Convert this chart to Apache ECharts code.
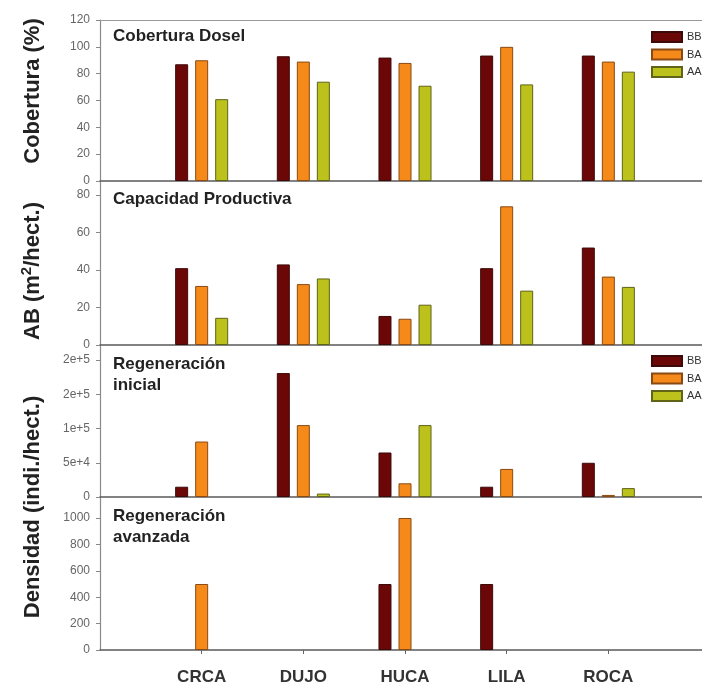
<!DOCTYPE html>
<html>
<head>
<meta charset="utf-8">
<script src="https://cdn.jsdelivr.net/npm/echarts@6/dist/echarts.min.js"></script>
<style>
  html, body { margin: 0; padding: 0; background: #fff; }
  #chart { width: 702px; height: 682px; }
</style>
</head>
<body>
<div id="chart"></div>
<script>
// Sites (x categories)
const categories = ['CRCA', 'DUJO', 'HUCA', 'LILA', 'ROCA'];
const seriesNames = ['BB', 'BA', 'AA'];

// Cobertura del dosel (%)
const coberturaBB = [87, 93, 92, 93.5, 93.5];
const coberturaBA = [90, 89, 88, 100, 89];
const coberturaAA = [61, 74, 71, 72, 81.5];

// Área basal (m2/hect.)
const abBB = [41, 43, 15.5, 41, 52];
const abBA = [31.5, 32.5, 14, 74, 36.5];
const abAA = [14.5, 35.5, 21.5, 29, 31];

// Regeneración inicial (indi./hect.)
const regInicialBB = [15000, 181000, 65000, 15000, 50000];
const regInicialBA = [81000, 105000, 20000, 41000, 3000];
const regInicialAA = [0, 5000, 105000, 0, 13000];

// Regeneración avanzada (indi./hect.)
const regAvanzadaBB = [0, 0, 500, 500, 0];
const regAvanzadaBA = [500, 0, 1000, 0, 0];
const regAvanzadaAA = [0, 0, 0, 0, 0];

// Y tick values and their printed labels per panel
const coberturaTicks = [0, 20, 40, 60, 80, 100, 120];
const coberturaTickLabels = ['0', '20', '40', '60', '80', '100', '120'];
const abTicks = [0, 20, 40, 60, 80];
const abTickLabels = ['0', '20', '40', '60', '80'];
const regInicialTicks = [0, 50000, 100000, 150000, 200000];
const regInicialTickLabels = ['0', '5e+4', '1e+5', '2e+5', '2e+5'];
const regAvanzadaTicks = [0, 200, 400, 600, 800, 1000];
const regAvanzadaTickLabels = ['0', '200', '400', '600', '800', '1000'];

const colors = { BB: '#6c0707', BA: '#f5891a', AA: '#bcc11c' };
const borderColors = { BB: '#3d0a0a', BA: '#8a4a12', AA: '#5f6418' };

// empty slot at each end so the sites sit one step inside the frame
const xSlots = [''].concat(categories, ['']);
// zero-valued bars get no outline so they vanish into the axis
const pad = arr => [null].concat(
  arr.map(v => (v === 0 ? { value: 0, itemStyle: { borderWidth: 0 } } : v)),
  [null]
);

const panels = [
  { top: 20,  height: 161, max: 120,    ticks: coberturaTicks,   labels: coberturaTickLabels,   data: [coberturaBB, coberturaBA, coberturaAA] },
  { top: 181, height: 164, max: 87.5,   ticks: abTicks,          labels: abTickLabels,          data: [abBB, abBA, abAA] },
  { top: 345, height: 152, max: 222000, ticks: regInicialTicks,  labels: regInicialTickLabels,  data: [regInicialBB, regInicialBA, regInicialAA] },
  { top: 497, height: 153, max: 1159,   ticks: regAvanzadaTicks, labels: regAvanzadaTickLabels, data: [regAvanzadaBB, regAvanzadaBA, regAvanzadaAA] }
];

const grid = [], xAxis = [], yAxis = [], series = [];
panels.forEach((p, i) => {
  // frame runs past the right edge of the canvas
  grid.push({ left: 100, width: 610, top: p.top, height: p.height, outerBoundsMode: 'none', containLabel: false });
  const last = i === panels.length - 1;
  xAxis.push({
    type: 'category', gridIndex: i, data: xSlots, boundaryGap: false,
    axisLine: { lineStyle: { color: '#5a5a5a', width: 1.5 } },
    axisTick: { show: last, length: 4, interval: (idx, v) => v !== '', lineStyle: { color: '#666' } },
    axisLabel: {
      show: last, margin: 19, interval: 0,
      fontFamily: 'Liberation Sans', fontWeight: 'bold', fontSize: 17, color: '#333'
    },
    splitLine: { show: false }
  });
  yAxis.push({
    type: 'value', gridIndex: i, min: 0, max: p.max,
    axisLine: { show: true, lineStyle: { color: '#8a8a8a', width: 1.2 } },
    axisTick: { show: true, length: 4, customValues: p.ticks, lineStyle: { color: '#888' } },
    axisLabel: {
      customValues: p.ticks, margin: 10,
      formatter: v => p.labels[p.ticks.indexOf(v)],
      fontFamily: 'Liberation Sans', fontSize: 12, color: '#666'
    },
    splitLine: { show: false }
  });
  seriesNames.forEach((name, k) => {
    series.push({
      name: name, type: 'bar', xAxisIndex: i, yAxisIndex: i,
      data: pad(p.data[k]),
      barWidth: 13, barGap: '54%',
      itemStyle: { color: colors[name], borderColor: borderColors[name], borderWidth: 1 },
      emphasis: { disabled: true },
      animation: false
    });
  });
});

// frame line along the top of the first panel
xAxis.push({
  type: 'category', gridIndex: 0, position: 'top', data: xSlots, boundaryGap: false,
  axisLine: { lineStyle: { color: '#9a9a9a', width: 1.2 } },
  axisTick: { show: false }, axisLabel: { show: false }
});

const legendCommon = {
  orient: 'vertical', left: 651, padding: 0, icon: 'rect',
  itemWidth: 30, itemHeight: 10, itemGap: 5.5,
  textStyle: { fontFamily: 'Liberation Sans', fontSize: 11, lineHeight: 10, color: '#333' },
  data: seriesNames, selectedMode: false
};

const panelTitleStyle = { fontFamily: 'Liberation Sans', fontWeight: 'bold', fontSize: 17, color: '#222', lineHeight: 21 };
const axisTitleStyle = { fontFamily: 'Liberation Sans', fontWeight: 'bold', fontSize: 22, fill: '#222' };

const option = {
  animation: false,
  backgroundColor: '#ffffff',
  grid: grid, xAxis: xAxis, yAxis: yAxis, series: series,
  legend: [
    Object.assign({ top: 31 }, legendCommon),
    Object.assign({ top: 355 }, legendCommon)
  ],
  title: [
    { text: 'Cobertura Dosel', left: 113, top: 26, padding: 0, textStyle: panelTitleStyle },
    { text: 'Capacidad Productiva', left: 113, top: 189, padding: 0, textStyle: panelTitleStyle },
    { text: 'Regeneración\ninicial', left: 113, top: 354, padding: 0, textStyle: panelTitleStyle },
    { text: 'Regeneración\navanzada', left: 113, top: 506, padding: 0, textStyle: panelTitleStyle }
  ],
  graphic: [
    { type: 'text', x: 33, y: 91, rotation: Math.PI / 2,
      style: Object.assign({ text: 'Cobertura (%)', align: 'center', verticalAlign: 'middle' }, axisTitleStyle) },
    { type: 'text', x: 33, y: 271, rotation: Math.PI / 2,
      style: Object.assign({
        text: 'AB (m{sup|2}/hect.)', align: 'center', verticalAlign: 'middle',
        rich: { sup: { fontFamily: 'Liberation Sans', fontWeight: 'bold', fontSize: 15, fill: '#222', verticalAlign: 'top', padding: [0, 0, 12, 0] } }
      }, axisTitleStyle) },
    { type: 'text', x: 33, y: 507, rotation: Math.PI / 2,
      style: Object.assign({ text: 'Densidad (indi./hect.)', align: 'center', verticalAlign: 'middle' }, axisTitleStyle) }
  ]
};

const chart = echarts.init(document.getElementById('chart'), null, { renderer: 'canvas' });
chart.setOption(option);
</script>
</body>
</html>
